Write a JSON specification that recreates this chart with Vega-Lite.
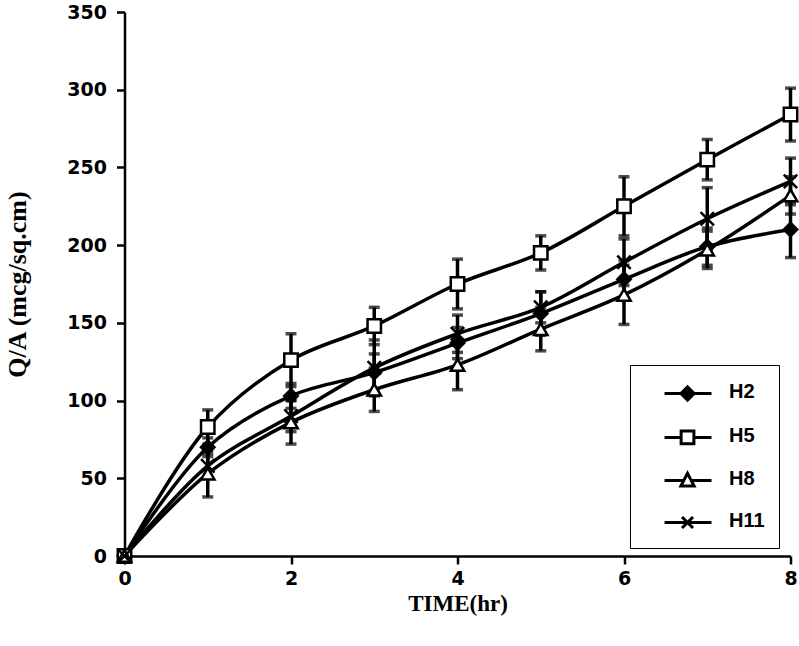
{
  "$schema": "https://vega.github.io/schema/vega-lite/v6.json",
  "width": 666,
  "height": 544,
  "autosize": {"type": "none"},
  "padding": {"left": 124.5, "top": 12, "right": 8.5, "bottom": 90},
  "background": "white",
  "config": {
    "view": {"stroke": null},
    "axis": {
      "domainColor": "black", "domainWidth": 2.5,
      "tickColor": "black", "tickWidth": 2.5, "tickSize": 8,
      "labelFont": "DejaVu Sans", "labelFontWeight": "bold", "labelFontSize": 19, "labelColor": "black",
      "titleFont": "Liberation Serif", "titleFontWeight": "bold", "titleFontSize": 23, "titleColor": "black",
      "grid": false, "labelFlush": false
    },
    "legend": {
      "labelFont": "Liberation Sans", "labelFontWeight": "bold", "labelFontSize": 20, "labelColor": "black"
    }
  },
  "data": {"values": [
    {"t": 0, "series": "H2", "y": 0, "err": 0},
    {"t": 1, "series": "H2", "y": 70, "err": 6},
    {"t": 2, "series": "H2", "y": 103, "err": 8},
    {"t": 3, "series": "H2", "y": 118, "err": 12},
    {"t": 4, "series": "H2", "y": 137, "err": 10},
    {"t": 5, "series": "H2", "y": 156, "err": 14},
    {"t": 6, "series": "H2", "y": 178, "err": 12},
    {"t": 7, "series": "H2", "y": 199, "err": 12},
    {"t": 8, "series": "H2", "y": 210, "err": 18},
    {"t": 0, "series": "H5", "y": 0, "err": 0},
    {"t": 1, "series": "H5", "y": 83, "err": 11},
    {"t": 2, "series": "H5", "y": 126, "err": 17},
    {"t": 3, "series": "H5", "y": 148, "err": 12},
    {"t": 4, "series": "H5", "y": 175, "err": 16},
    {"t": 5, "series": "H5", "y": 195, "err": 11},
    {"t": 6, "series": "H5", "y": 225, "err": 19},
    {"t": 7, "series": "H5", "y": 255, "err": 13},
    {"t": 8, "series": "H5", "y": 284, "err": 17},
    {"t": 0, "series": "H8", "y": 0, "err": 0},
    {"t": 1, "series": "H8", "y": 53, "err": 15},
    {"t": 2, "series": "H8", "y": 86, "err": 14},
    {"t": 3, "series": "H8", "y": 107, "err": 14},
    {"t": 4, "series": "H8", "y": 123, "err": 16},
    {"t": 5, "series": "H8", "y": 146, "err": 14},
    {"t": 6, "series": "H8", "y": 168, "err": 19},
    {"t": 7, "series": "H8", "y": 197, "err": 12},
    {"t": 8, "series": "H8", "y": 232, "err": 12},
    {"t": 0, "series": "H11", "y": 0, "err": 0},
    {"t": 1, "series": "H11", "y": 58, "err": 8},
    {"t": 2, "series": "H11", "y": 90, "err": 10},
    {"t": 3, "series": "H11", "y": 121, "err": 18},
    {"t": 4, "series": "H11", "y": 143, "err": 12},
    {"t": 5, "series": "H11", "y": 160, "err": 10},
    {"t": 6, "series": "H11", "y": 189, "err": 15},
    {"t": 7, "series": "H11", "y": 217, "err": 20},
    {"t": 8, "series": "H11", "y": 241, "err": 15}
  ]},
  "layer": [
    {
      "mark": {"type": "line", "interpolate": "catmull-rom", "color": "black", "strokeWidth": 3.5},
      "encoding": {
        "x": {"field": "t", "type": "quantitative", "scale": {"domain": [0, 8], "nice": false}, "title": "TIME(hr)",
              "axis": {"values": [0, 2, 4, 6, 8], "format": "d", "title": "TIME(hr)", "labelPadding": 5, "titlePadding": 4}},
        "y": {"field": "y", "type": "quantitative", "scale": {"domain": [0, 350], "nice": false}, "title": "Q/A (mcg/sq.cm)",
              "axis": {"values": [0, 50, 100, 150, 200, 250, 300, 350], "format": "d", "title": "Q/A (mcg/sq.cm)", "labelPadding": 10, "titlePadding": 36, "titleFontSize": 26}},
        "detail": {"field": "series"}
      }
    },
    {
      "mark": {"type": "errorbar", "color": "black", "ticks": {"size": 11, "thickness": 3.5, "color": "black"}, "rule": {"strokeWidth": 3.5}},
      "encoding": {
        "x": {"field": "t", "type": "quantitative", "title": "TIME(hr)"},
        "y": {"field": "y", "type": "quantitative", "title": "Q/A (mcg/sq.cm)"},
        "yError": {"field": "err"},
        "detail": {"field": "series"}
      }
    },
    {
      "mark": {"type": "point", "stroke": "black", "strokeWidth": 2.5, "opacity": 1, "size": 180},
      "encoding": {
        "x": {"field": "t", "type": "quantitative", "title": "TIME(hr)"},
        "y": {"field": "y", "type": "quantitative", "title": "Q/A (mcg/sq.cm)"},
        "shape": {"field": "series", "type": "nominal", "legend": null,
                  "scale": {"domain": ["H2", "H5", "H8", "H11"], "range": ["diamond", "square", "triangle-up", "M-1,-1L1,1M-1,1L1,-1"]}},
        "fill": {"field": "series", "type": "nominal", "legend": null,
                 "scale": {"domain": ["H2", "H5", "H8", "H11"], "range": ["black", "white", "white", "black"]}}
      }
    },
    {
      "transform": [{"filter": "datum.t == 0"}],
      "mark": {"type": "point", "filled": false, "stroke": "black", "strokeWidth": 3, "opacity": 1, "size": 2},
      "encoding": {
        "x": {"field": "t", "type": "quantitative", "title": "TIME(hr)"},
        "y": {"field": "y", "type": "quantitative", "title": "Q/A (mcg/sq.cm)"},
        "shape": {"field": "series", "type": "nominal",
                  "scale": {"domain": ["H2", "H5", "H8", "H11"], "range": [
                    "M0.73,0.18L5,0.18M2.22,0.18L2.82,-0.42L3.42,0.18L2.82,0.78ZM2.47,0.18L2.82,-0.17L3.17,0.18L2.82,0.53ZM2.72,0.18L2.82,0.08L2.92,0.18L2.82,0.28Z",
                    "M0.73,0.18L2.24,0.18M3.4,0.18L5,0.18M2.24,-0.4L3.4,-0.4L3.4,0.76L2.24,0.76Z",
                    "M0.73,0.18L2.48,0.18M3.16,0.18L5,0.18M2.82,-0.47L3.42,0.68L2.22,0.68Z",
                    "M0.73,0.18L5,0.18M2.32,-0.32L3.32,0.68M2.32,0.68L3.32,-0.32"]},
                  "legend": {"title": null, "orient": "none", "legendX": 505.5, "legendY": 353,
                             "symbolSize": 484, "symbolStrokeColor": "black", "symbolStrokeWidth": 3,
                             "symbolFillColor": "transparent",
                             "strokeColor": "black", "padding": 14, "rowPadding": 16, "labelOffset": 60,
                             "labelExpr": "datum.label + '\u00a0\u00a0'",
                             "encode": {"legend": {"update": {"strokeWidth": {"value": 2.5}}}}}}
      }
    }
  ],
  "resolve": {"scale": {"shape": "independent"}, "legend": {"shape": "independent"}}
}
